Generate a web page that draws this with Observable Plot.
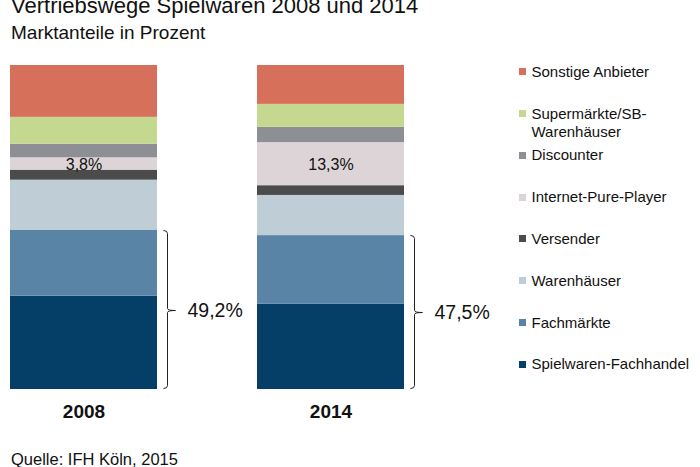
<!DOCTYPE html>
<html lang="de">
<head>
<meta charset="utf-8">
<script src="https://cdn.jsdelivr.net/npm/d3@7"></script>
<script src="https://cdn.jsdelivr.net/npm/@observablehq/plot@0.6"></script>
<style>
  body { margin: 0; background: #fff; }
  #chart {
    position: relative; width: 700px; height: 467px; overflow: hidden;
    font-family: "Liberation Sans", Arial, sans-serif; color: #111;
  }
  .t { position: absolute; left: 11px; line-height: 1; white-space: nowrap; }
  #title { top: -5px; font-size: 22px; }
  #subtitle { top: 23px; font-size: 19px; }
  #plot { position: absolute; left: 0; top: 45px; }
  #caption { top: 451px; font-size: 16.5px; }
  #legend { position: absolute; left: 0; top: 0; }
  .item { position: absolute; left: 519px; width: 175px; }
  .swatch { position: absolute; left: 0; top: 5.5px; width: 7px; height: 7px; }
  .label { position: absolute; left: 12.5px; width: 165px; font-size: 15px; line-height: 18px; }
</style>
</head>
<body>
<div id="chart">
  <div id="title" class="t">Vertriebswege Spielwaren 2008 und 2014</div>
  <div id="subtitle" class="t">Marktanteile in Prozent</div>
  <div id="plot"></div>
  <div id="legend"></div>
  <div id="caption" class="t">Quelle: IFH Köln, 2015</div>
</div>
<script>
// Market shares of toy distribution channels, listed from the bottom of each stack upward.
const years = ["2008", "2014"];
const channels = [
  "Spielwaren-Fachhandel",
  "Fachmärkte",
  "Warenhäuser",
  "Versender",
  "Internet-Pure-Player",
  "Discounter",
  "Supermärkte/SB-Warenhäuser",
  "Sonstige Anbieter"
];
const share2008 = [28.8, 20.4, 15.4, 3.1, 3.8, 4.2, 8.3, 16.0];
const share2014 = [26.3, 21.2, 12.4, 3.0, 13.3, 4.7, 7.1, 12.0];
const channelColors = [
  "#053f68", "#5a84a6", "#bfcdd7", "#4b4b4b",
  "#ddd4d7", "#8d8f94", "#c4d98f", "#d6705a"
];
// Channel whose share is written on the bars, and how many bottom channels the brace groups.
const labelledChannel = "Internet-Pure-Player";
const bracedCount = 2;

const sharesByYear = [share2008, share2014];
const rows = years.flatMap((year, j) =>
  channels.map((channel, i) => ({year, channel, value: sharesByYear[j][i]}))
);
const braceRows = years.map((year, j) => ({
  year,
  total: d3.sum(sharesByYear[j].slice(0, bracedCount))
}));

const pct = (v) => d3.format(".1f")(v).replace(".", ",") + "%";

// Curly brace to the right of each bar, spanning the specialist channels.
function braces(index, scales) {
  const {x, y} = scales;
  const bw = x.bandwidth ? x.bandwidth() : 0;
  const g = d3.create("svg:g");
  for (const b of braceRows) {
    const bx = Math.round(x(b.year) + bw + 10) + 0.5;
    const top = Math.round(y(b.total)) + 0.5;
    const bottom = Math.round(y(0)) - 0.5;
    const mid = Math.round((top + bottom) / 2) + 0.5;
    g.append("path")
      .attr("fill", "none")
      .attr("stroke", "#222")
      .attr("stroke-width", 1)
      .attr("d",
        `M${bx - 4},${top} Q${bx},${top} ${bx},${top + 3}` +
        `V${mid - 2} Q${bx},${mid} ${bx + 8},${mid}` +
        `M${bx + 8},${mid} Q${bx},${mid} ${bx},${mid + 2}` +
        `V${bottom - 3} Q${bx},${bottom} ${bx - 4},${bottom}`);
    g.append("text")
      .attr("x", bx + 20)
      .attr("y", mid)
      .attr("dy", "0.35em")
      .attr("text-anchor", "start")
      .attr("fill", "#111")
      .attr("font-size", 19.5)
      .text(pct(b.total));
  }
  return g.node();
}

const plot = Plot.plot({
  width: 700,
  height: 400,
  marginTop: 20,
  marginBottom: 56,
  marginLeft: 10,
  marginRight: 296,
  style: {
    fontFamily: "'Liberation Sans', Arial, sans-serif",
    fontSize: "16px",
    background: "transparent",
    overflow: "visible"
  },
  x: {domain: years, paddingInner: 100 / 247, paddingOuter: 0, axis: null},
  y: {domain: [0, 100], axis: null},
  color: {domain: channels, range: channelColors},
  marks: [
    Plot.barY(rows, {x: "year", y: "value", fill: "channel"}),
    Plot.text(rows, Plot.stackY({
      x: "year",
      y: "value",
      z: "channel",
      text: (d) => (d.channel === labelledChannel ? pct(d.value) : null),
      fontSize: 16,
      fill: "#111",
      dy: 1
    })),
    Plot.text(years, {
      x: (d) => d,
      frameAnchor: "bottom",
      dy: 28,
      fontSize: 19,
      fontWeight: "bold",
      fill: "#111"
    }),
    braces
  ]
});
document.getElementById("plot").append(plot);

// Legend, top entry first (same order as the top of the stacks).
const legend = document.getElementById("legend");
channels.slice().reverse().forEach((channel, k) => {
  const center = 71.7 + k * 41.8;
  const item = document.createElement("div");
  item.className = "item";
  item.style.top = (center - 9) + "px";
  const sw = document.createElement("div");
  sw.className = "swatch";
  sw.style.background = channelColors[channels.indexOf(channel)];
  const lab = document.createElement("div");
  lab.className = "label";
  lab.textContent = channel;
  item.append(sw, lab);
  legend.append(item);
});
</script>
</body>
</html>
